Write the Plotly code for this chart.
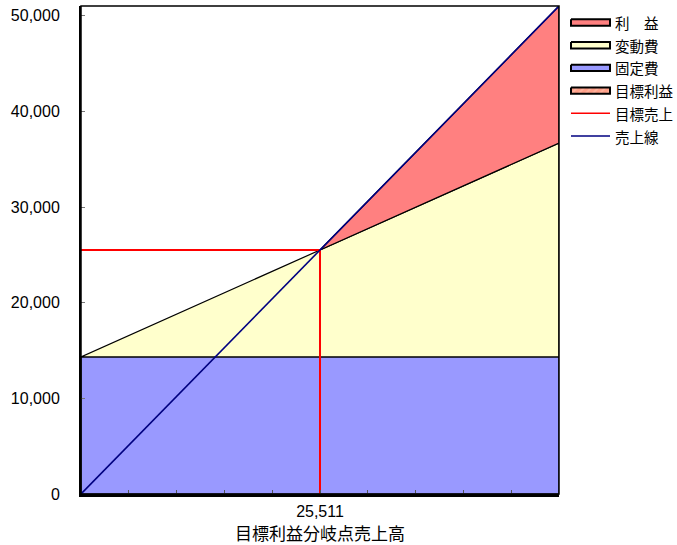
import plotly.graph_objects as go

# ---- data ----
sales_x = [0, 25511, 51022]          # 売上高 (x axis)
sales_line = [0, 25511, 51022]       # 売上線
fixed_cost = [14330, 14330, 14330]   # 固定費
total_cost = [14330, 25511, 36692]   # 固定費 + 変動費
target_sales = 25511                 # 目標利益分岐点売上高
y_ticks = [0, 10000, 20000, 30000, 40000, 50000]
x_tick_vals = [i * target_sales / 5 for i in range(11)]
x_tick_text = ["" if i != 5 else "25,511" for i in range(11)]
legend_labels = ["利　益", "変動費", "固定費", "目標利益", "目標売上", "売上線"]

FONT = "Liberation Sans, Arial, Noto Sans CJK JP, sans-serif"
xmax = sales_x[-1]

# colours / styles
C_PROFIT = "#FF8080"
C_VAR = "#FFFFCC"
C_FIXED = "#9999FF"
C_TARGET_BG = "#FF9F88"
C_TARGET_FG = "#FFC8B4"
C_RED = "#FF0000"
C_BLUE = "#000080"

W, H = 677, 545
ML, MT, MB = 81, 6, 51
PLOT_R = 559
plot_w = W - ML
main_dom = [0, (PLOT_R - ML) / plot_w]
LEG_X0 = 567
leg_dom = [(LEG_X0 - ML) / plot_w, 1]

fig = go.Figure()

def poly(x, y, color, pattern=None):
    kw = {}
    if pattern:
        kw["fillpattern"] = pattern
    return go.Scatter(x=x, y=y, fill="toself", fillcolor=color, mode="lines",
                      line=dict(color="black", width=1.2), showlegend=False,
                      hoverinfo="skip", **kw)

# 固定費
fig.add_trace(poly([sales_x[0], sales_x[-1], sales_x[-1], sales_x[0], sales_x[0]],
                   [0, 0, fixed_cost[-1], fixed_cost[0], 0], C_FIXED))
# 変動費
fig.add_trace(poly([sales_x[0], sales_x[-1], sales_x[-1], sales_x[0]],
                   [fixed_cost[0], fixed_cost[-1], total_cost[-1], total_cost[0]], C_VAR))
# 利益
fig.add_trace(poly([sales_x[1], sales_x[2], sales_x[2], sales_x[1]],
                   [sales_line[1], sales_line[2], total_cost[2], total_cost[1]], C_PROFIT))
# 目標売上 (red lines)
fig.add_trace(go.Scatter(x=[sales_x[0], target_sales, target_sales],
                         y=[target_sales, target_sales, 0], mode="lines",
                         line=dict(color=C_RED, width=2), showlegend=False,
                         hoverinfo="skip"))
# 売上線
fig.add_trace(go.Scatter(x=sales_x, y=sales_line, mode="lines",
                         line=dict(color=C_BLUE, width=1.6), showlegend=False,
                         hoverinfo="skip"))

# ---- manual legend (on a pixel-scaled helper axis) ----
row_y0, row_dy = 22.5, 22.7
sx0, sx1, sh = 571, 610, 3.2
pattern = dict(shape="/", fgcolor=C_TARGET_FG, bgcolor=C_TARGET_BG, size=5, solidity=0.35)
box_styles = [(C_PROFIT, None), (C_VAR, None), (C_FIXED, None), (C_TARGET_BG, pattern)]
annotations = []
for i, label in enumerate(legend_labels):
    yc = row_y0 + i * row_dy
    if i < 4:
        col, pat = box_styles[i]
        kw = {"fillpattern": pat} if pat else {}
        fig.add_trace(go.Scatter(x=[sx0, sx1, sx1, sx0, sx0],
                                 y=[yc - sh, yc - sh, yc + sh, yc + sh, yc - sh],
                                 xaxis="x2", yaxis="y2", fill="toself", fillcolor=col,
                                 mode="lines", line=dict(color="black", width=2),
                                 showlegend=False, hoverinfo="skip", **kw))
    else:
        col = C_RED if i == 4 else C_BLUE
        fig.add_trace(go.Scatter(x=[sx0, sx1], y=[yc, yc], xaxis="x2", yaxis="y2",
                                 mode="lines", line=dict(color=col, width=1.5),
                                 showlegend=False, hoverinfo="skip"))
    annotations.append(dict(x=sx1 + 3, y=yc, xref="x2", yref="y2", text=label,
                            showarrow=False, xanchor="left", yanchor="middle",
                            font=dict(size=14.5, family="Noto Sans CJK JP")))

fig.update_layout(
    width=W, height=H,
    margin=dict(l=ML, r=0, t=MT, b=MB, autoexpand=False),
    paper_bgcolor="white", plot_bgcolor="white",
    font=dict(family=FONT, size=16, color="black"),
    showlegend=False,
    xaxis=dict(domain=main_dom, range=[0, xmax], tickmode="array", tickvals=x_tick_vals,
               ticktext=x_tick_text, ticks="inside", ticklen=4,
               tickcolor="#555555", showgrid=False, zeroline=False,
               showline=True, linecolor="black", linewidth=3, automargin=False,
               ticklabelstandoff=1,
               title=dict(text="目標利益分岐点売上高", standoff=0,
                          font=dict(size=17, family="Noto Sans CJK JP"))),
    yaxis=dict(range=[0, xmax], tickmode="array", tickvals=y_ticks,
               tickformat=",", ticks="inside", ticklen=4, automargin=False,
               tickcolor="#777777", showgrid=False, zeroline=False,
               ticklabelstandoff=16,
               showline=True, linecolor="black", linewidth=2),
    xaxis2=dict(domain=leg_dom, range=[LEG_X0, W], visible=False, anchor="y2",
                fixedrange=True),
    yaxis2=dict(domain=[0, 1], range=[H - MB, MT], visible=False, anchor="x2",
                fixedrange=True),
    shapes=[dict(type="rect", xref="x domain", yref="y domain", x0=0, x1=1, y0=0, y1=1,
                 line=dict(color="black", width=1.5), layer="above")],
    annotations=annotations,
)

fig.write_html("out.html", config={"displayModeBar": False},
               post_script="document.body.style.margin='0';document.body.style.overflow='hidden';")
